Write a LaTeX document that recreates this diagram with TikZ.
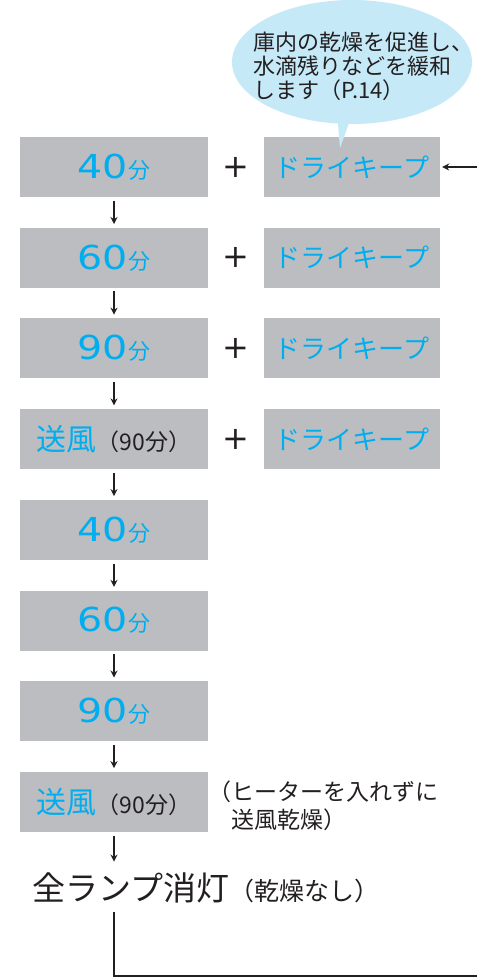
\documentclass[tikz,border=0pt]{standalone}
\usepackage{fontspec}
\setmainfont{Noto Sans CJK JP}
\newfontfamily\digitfont[FakeStretch=1.2]{DejaVu Sans}
\newfontfamily\signfont{DejaVu Sans}
\usetikzlibrary{arrows.meta,shapes.geometric}

\definecolor{keepblue}{HTML}{00AEEF}
\definecolor{boxgray}{HTML}{BCBDC0}
\definecolor{bubblefill}{HTML}{C6E9F8}
\definecolor{inkgray}{HTML}{231F20}

\newcommand{\fsz}[1]{\fontsize{#1}{#1}\selectfont}
\newcommand{\fszl}[2]{\fontsize{#1}{#2}\selectfont}
\newcommand{\mins}[1]{{\color{keepblue}{\digitfont\fsz{33}#1}\fsz{22}分}}
\newcommand{\fanrun}{{\color{keepblue}\fsz{30}送風}{\color{inkgray}\fsz{23}（90分）}}
\newcommand{\keeptxt}{{\color{keepblue}\fsz{26}ドライキープ}}

\tikzset{
  stepbox/.style={fill=boxgray, minimum width=188pt, minimum height=60pt, inner sep=0pt},
  keepbox/.style={fill=boxgray, minimum width=176pt, minimum height=60pt, inner sep=0pt},
  plus/.style={text=inkgray, font=\signfont\fsz{32}, inner sep=0pt},
  bubble/.style={ellipse, fill=bubblefill, minimum width=240pt, minimum height=124pt, inner sep=0pt},
  notetext/.style={text=inkgray, font=\fszl{22}{24}, align=left, inner sep=0pt},
  flow/.style={-{Stealth[length=7pt,width=7pt]}, line width=1.2pt, draw=inkgray, shorten <=3.5pt, shorten >=3.5pt},
  loopline/.style={line width=1.3pt, draw=inkgray},
}

\begin{document}
\begin{tikzpicture}[x=1pt,y=-1pt]
\useasboundingbox (0,0) rectangle (477,978);

% Program steps
\foreach \i/\y/\txt in {1/167/\mins{40}, 2/257.7/\mins{60}, 3/348.4/\mins{90}, 4/439.1/\fanrun,
                        5/529.8/\mins{40}, 6/620.5/\mins{60}, 7/711.2/\mins{90}, 8/801.9/\fanrun}{
    \node[stepbox] (s\i) at (114,\y) {\txt};
}
\foreach \i/\j in {1/2, 2/3, 3/4, 4/5, 5/6, 6/7, 7/8}{
    \draw[flow] (s\i) -- (s\j);
}

% Dry keep
\foreach \i/\y in {1/167, 2/257.7, 3/348.4, 4/439.1}{
    \node[plus] (p\i) at (236,\y) {+};
    \node[keepbox] (k\i) at (352,\y) {\keeptxt};
}

% Balloon
\node[bubble] (bub) at (352,62) {};
\fill[bubblefill] (337,112) -- (353,112) -- (340,148) -- cycle;
\node[notetext, anchor=west] (note) at (253,66) {庫内の乾燥を促進し、\\水滴残りなどを緩和\\します（P.14）};

% Last step
\node[notetext, font=\fszl{23}{28}, anchor=west] (aside) at (208,806)
    {（ヒーターを入れずに\\\hspace*{1em}送風乾燥）};
\node[text=inkgray, inner sep=0pt] (off) at (206,888) {\fsz{33}全ランプ消灯\fsz{25}（乾燥なし）};
\draw[flow, shorten >=11pt] (s8.south) -- (s8.south |- off.north);

% Loop back
\coordinate (loopout) at (477,976);
\coordinate (loopin) at (477,167);
\draw[loopline, shorten <=9pt] (off.south -| s8.south) |- (loopout);
\draw[flow, shorten <=0pt, shorten >=2pt] (loopin) -- (k1.east);

\end{tikzpicture}
\end{document}
